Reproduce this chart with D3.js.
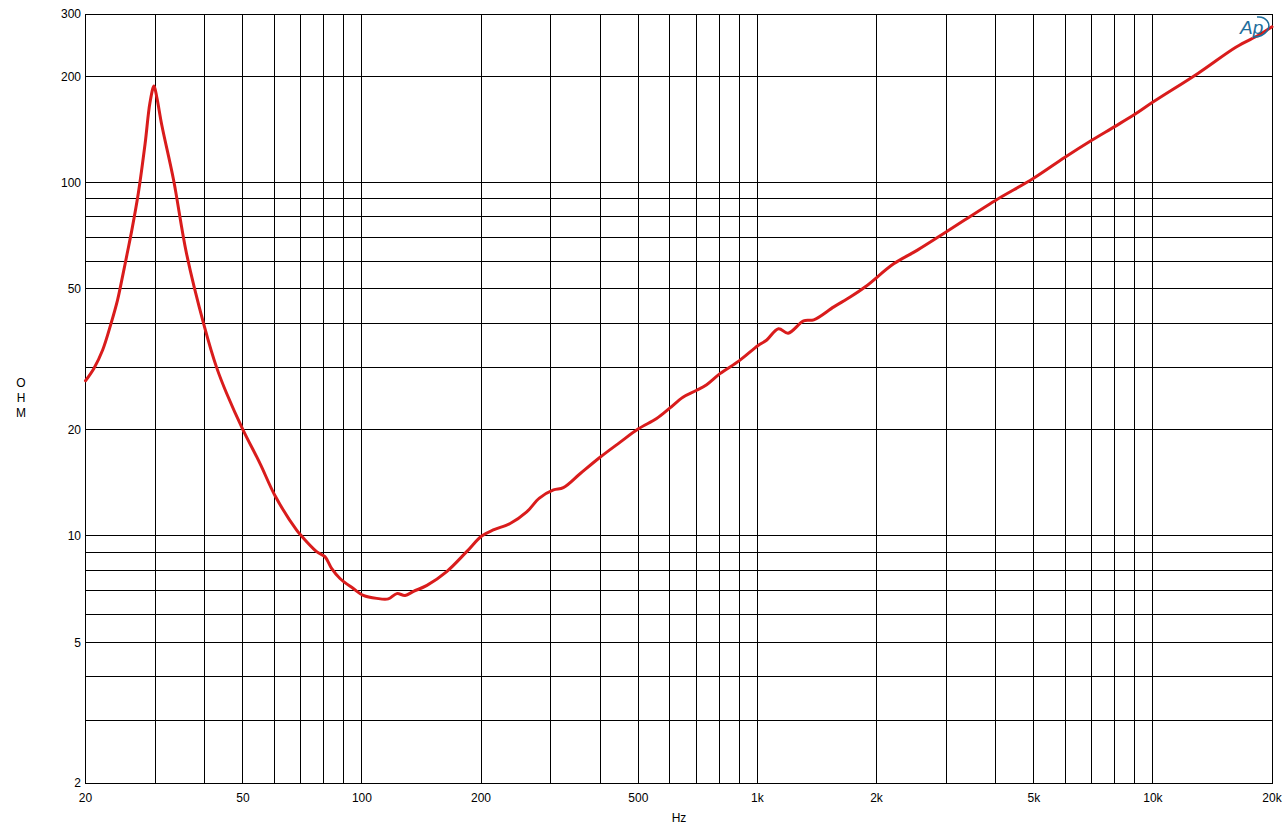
<!DOCTYPE html>
<html>
<head>
<meta charset="utf-8">
<script src="https://cdn.jsdelivr.net/npm/d3@7"></script>
<style>
  html, body { margin: 0; padding: 0; background: #fff; }
  svg { display: block; font-family: "Liberation Sans", Arial, sans-serif; }
</style>
</head>
<body>
<svg id="chart" width="1286" height="834"></svg>
<script>
// ---- data ----
const freqHz = [20, 21, 22.1, 23.2, 24.1, 24.8, 25.5, 26.2, 27.2, 28.3, 29.1, 29.8, 30.3,
  31.2, 33.4, 36.0, 40.0, 42.9, 45.5, 50, 55.3, 60.3, 68.3, 70, 76.8, 80.6, 83.8, 88, 95.1,
  100.8, 109, 116.6, 122.5, 128.6, 135, 146, 163.8, 184, 200.8, 214.8, 237, 261, 281, 305,
  323, 356, 400, 449, 500, 556, 600, 648, 700, 744, 804, 902, 1004, 1054, 1130, 1196,
  1308, 1388, 1560, 1720, 1878, 2210, 2538, 3012, 3988, 4980, 5992, 7020, 8000,
  9000, 10000, 13020, 16240, 18580, 20000];
const impedanceOhm = [27.5, 29.8, 33.6, 39.9, 46.5, 54.1, 63.1, 73.5, 93.3, 129, 168, 187.6, 174,
  145, 101.7, 63.1, 39.0, 30.0, 25.3, 20.0, 16.0, 13.0, 10.4, 10.06, 9.03, 8.74, 8.10, 7.58, 7.10,
  6.79, 6.66, 6.64, 6.87, 6.79, 6.97, 7.25, 7.93, 9.03, 10.0, 10.4, 10.85, 11.7, 12.8, 13.5,
  13.7, 15.0, 16.7, 18.4, 20.1, 21.5, 23.0, 24.7, 25.8, 26.8, 28.8, 31.4, 34.6, 35.8, 38.6, 37.5,
  40.6, 40.9, 44.5, 47.5, 50.8, 58.9, 64.4, 72.7, 88.9, 102.7, 118, 132, 144,
  156, 169, 204, 242, 262, 276];

const xGrid = [20, 30, 40, 50, 60, 70, 80, 90, 100, 200, 300, 400, 500, 600, 700, 800, 900,
  1000, 2000, 3000, 4000, 5000, 6000, 7000, 8000, 9000, 10000, 20000];
const xTickValues = [20, 50, 100, 200, 500, 1000, 2000, 5000, 10000, 20000];
const xTickLabels = ["20", "50", "100", "200", "500", "1k", "2k", "5k", "10k", "20k"];
const yGrid = [2, 3, 4, 5, 6, 7, 8, 9, 10, 20, 30, 40, 50, 60, 70, 80, 90, 100, 200, 300];
const yTickValues = [2, 5, 10, 20, 50, 100, 200, 300];
const yTickLabels = ["2", "5", "10", "20", "50", "100", "200", "300"];
const xTitle = "Hz";
const yTitle = ["O", "H", "M"];

// ---- layout ----
const svg = d3.select("#chart");
const L = 85.5, R = 1272, T = 14, B = 783;
const x = d3.scaleLog().domain([20, 20000]).range([L, R]);
const y = d3.scaleLog().domain([2, 300]).range([B, T]);
const snap = v => Math.round(v - 0.5) + 0.5;

const grid = svg.append("g").attr("stroke", "#000").attr("stroke-width", 1)
  .attr("shape-rendering", "crispEdges");
grid.selectAll("line.v").data(xGrid).join("line").attr("class", "v")
  .attr("x1", d => snap(x(d))).attr("x2", d => snap(x(d)))
  .attr("y1", T).attr("y2", B);
grid.selectAll("line.h").data(yGrid).join("line").attr("class", "h")
  .attr("y1", d => snap(y(d))).attr("y2", d => snap(y(d)))
  .attr("x1", L).attr("x2", R);
grid.append("rect").attr("x", snap(L)).attr("y", snap(T))
  .attr("width", snap(R) - snap(L)).attr("height", snap(B) - snap(T)).attr("fill", "none");

// tick labels
svg.append("g").selectAll("text").data(xTickValues).join("text")
  .attr("x", d => x(d)).attr("y", 802).attr("text-anchor", "middle")
  .attr("font-size", 12).attr("fill", "#000")
  .text((d, i) => xTickLabels[i]);
svg.append("g").selectAll("text").data(yTickValues).join("text")
  .attr("x", 81).attr("y", d => y(d)).attr("dy", "0.36em").attr("text-anchor", "end")
  .attr("font-size", 12).attr("fill", "#000")
  .text((d, i) => yTickLabels[i]);

// axis titles
svg.append("text").attr("x", 679).attr("y", 822).attr("text-anchor", "middle")
  .attr("font-size", 12).text(xTitle);
svg.append("g").selectAll("text").data(yTitle).join("text")
  .attr("x", 21).attr("y", (d, i) => 387 + i * 15).attr("text-anchor", "middle")
  .attr("font-size", 12).text(d => d);

// curve
const pts = freqHz.map((f, i) => [f, impedanceOhm[i]]);
const line = d3.line().x(d => x(d[0])).y(d => y(d[1])).curve(d3.curveCatmullRom.alpha(0.5));
svg.append("path").datum(pts).attr("d", line)
  .attr("fill", "none").attr("stroke", "#d91c1c").attr("stroke-width", 3)
  .attr("stroke-linejoin", "round").attr("stroke-linecap", "round");

// Ap logo
const logo = svg.append("g").attr("transform", "translate(1240,34)");
logo.append("text").attr("x", 0).attr("y", 0).attr("font-size", 19)
  .attr("font-style", "italic").attr("fill", "#1f6e9c")
  .attr("font-family", "Liberation Sans, Arial, sans-serif")
  .text("Ap");
logo.append("path").attr("d", "M 17 -17 C 26 -18, 32 -10, 27 -3 C 24 1, 19 3, 14 3")
  .attr("fill", "none").attr("stroke", "#1f6e9c").attr("stroke-width", 1.5);
</script>
</body>
</html>
